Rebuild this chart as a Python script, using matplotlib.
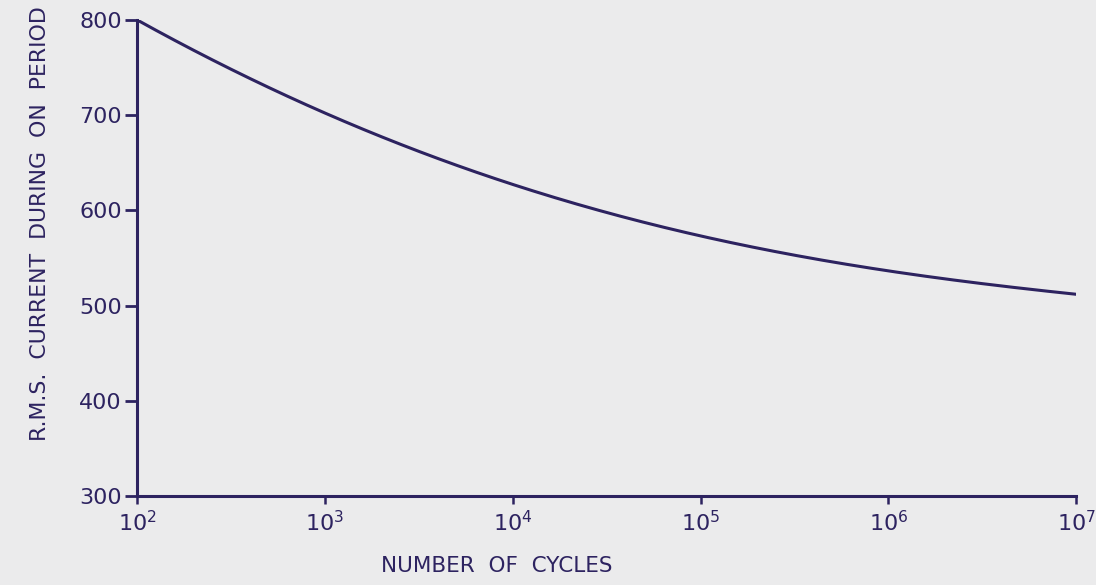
import numpy as np
import matplotlib.pyplot as plt

# values (decades and half decades)
cycles = [1e2, 10**2.5, 1e3, 10**3.5, 1e4, 10**4.5, 1e5, 10**5.5, 1e6, 10**6.5, 1e7]
current = [800, 748, 703, 662, 626, 598, 574, 553, 536, 523, 512]

x_ticks = [1e2, 1e3, 1e4, 1e5, 1e6, 1e7]
x_labels = ['$10^{2}$', '$10^{3}$', '$10^{4}$', '$10^{5}$', '$10^{6}$', '$10^{7}$']
y_ticks = [300, 400, 500, 600, 700, 800]

ink = '#2d2360'
paper = '#ebebec'

plt.rcParams['mathtext.default'] = 'regular'
plt.rcParams['font.family'] = 'DejaVu Sans'

fig = plt.figure(figsize=(10.96, 5.85), dpi=100, facecolor=paper)
ax = fig.add_axes([0.125, 0.152, 0.857, 0.814], facecolor=paper)

# smooth the read points in log space for a drawn-looking curve
lx = np.log10(cycles)
xs = np.linspace(lx[0], lx[-1], 300)
coef = np.polyfit(lx, current, 4)
ax.plot(10**xs, np.polyval(coef, xs), color=ink, linewidth=2.2, solid_capstyle='round')

ax.set_xscale('log')
ax.set_xlim(1e2, 1e7)
ax.set_ylim(300, 800)
ax.set_xticks(x_ticks)
ax.set_xticklabels(x_labels)
ax.minorticks_off()
ax.set_yticks(y_ticks)

for s in ['top', 'right']:
    ax.spines[s].set_visible(False)
for s in ['left', 'bottom']:
    ax.spines[s].set_color(ink)
    ax.spines[s].set_linewidth(2.2)

ax.tick_params(axis='y', direction='out', length=9, width=2, color=ink,
               labelcolor=ink, labelsize=16, pad=2)
ax.tick_params(axis='x', direction='out', length=6, width=1.8, color=ink,
               labelcolor=ink, labelsize=16, pad=4)

# axis titles sit where the draughtsman put them, not centred on the axes
fig.text(497 / 1096, 1 - 566 / 585, 'NUMBER  OF  CYCLES', color=ink, fontsize=15.5,
         ha='center', va='center')
fig.text(40 / 1096, 1 - 224 / 585, 'R.M.S.  CURRENT  DURING  ON  PERIOD', color=ink,
         fontsize=15.8, rotation=90, ha='center', va='center')

fig.savefig('out.png', dpi=100, facecolor=paper)
